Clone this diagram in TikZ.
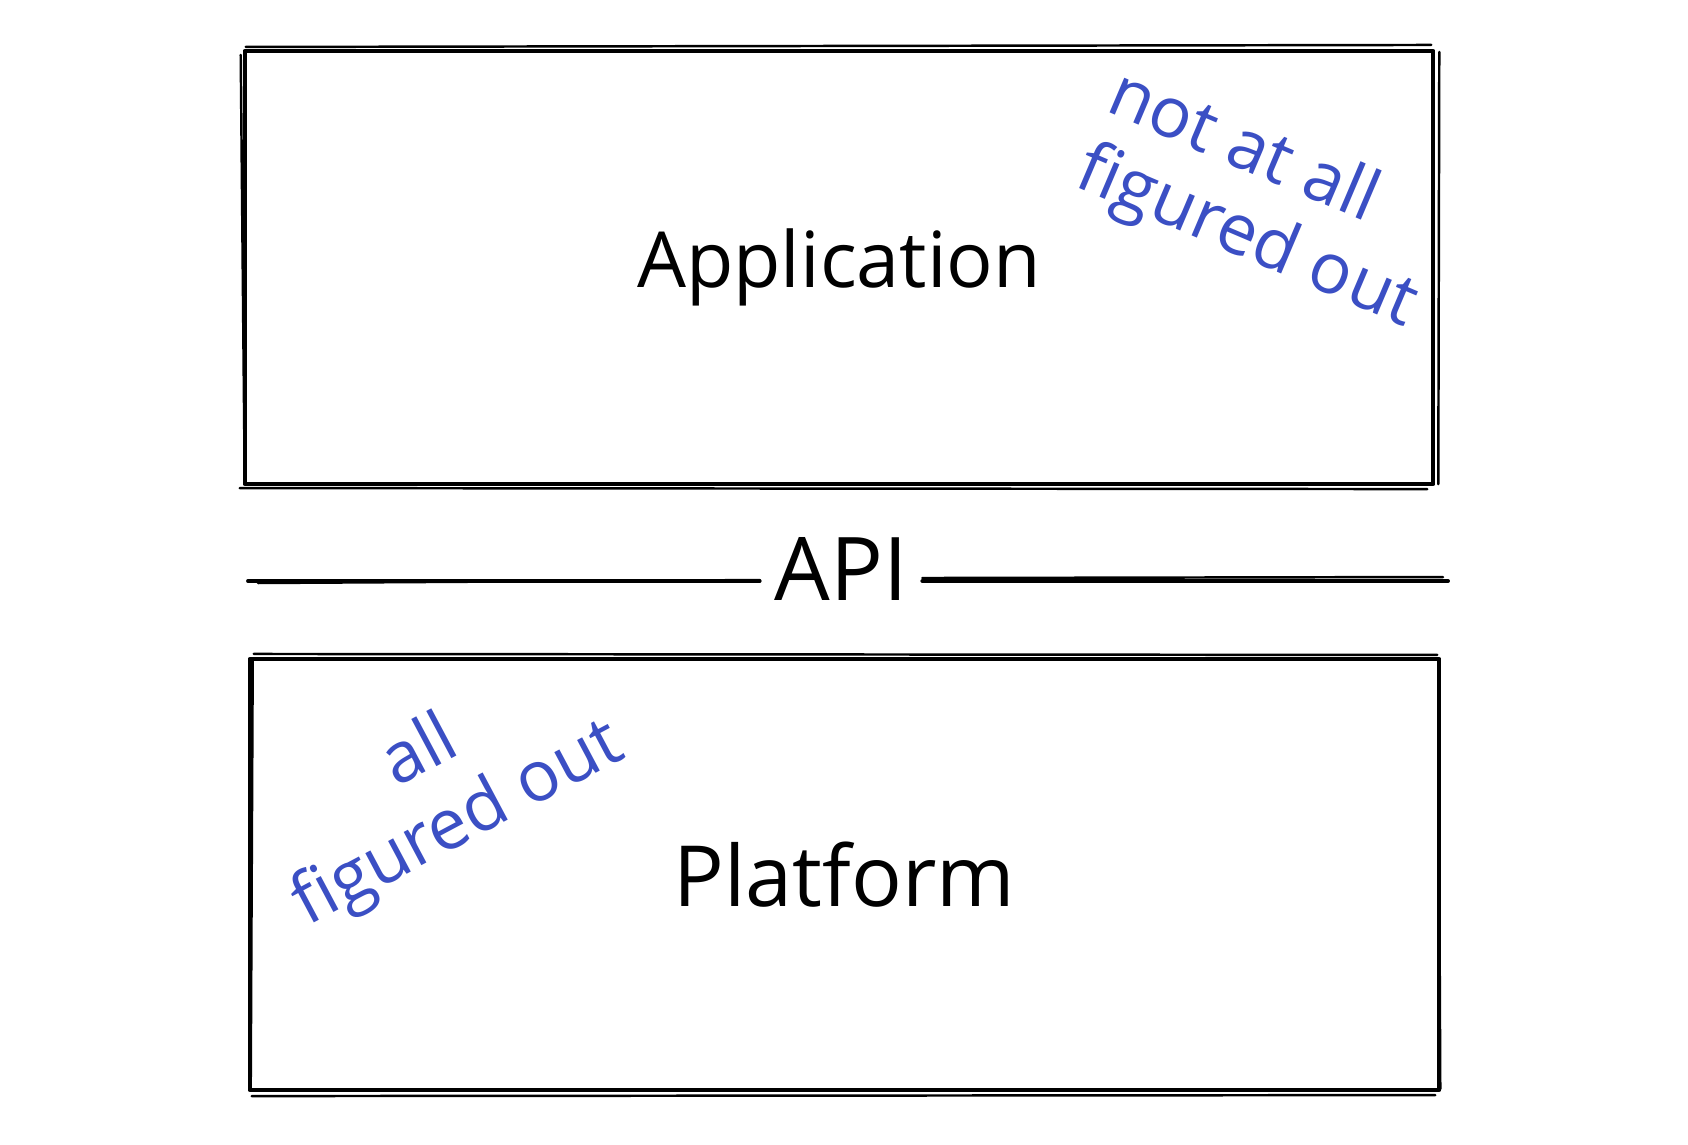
\documentclass[tikz,border=0pt]{standalone}
\usepackage{fontspec}
\setmainfont{Open Sans}
\definecolor{inkblue}{HTML}{3B4FC4}
\begin{document}
\begin{tikzpicture}[x=0.01cm,y=-0.01cm,
  sketch/.style={line width=1.1pt, line cap=round, line join=round, draw=black},
  thinsketch/.style={line width=0.7pt, line cap=round, draw=black},
  boxnode/.style={sketch, rectangle, inner sep=0pt},
  note/.style={text=inkblue, font=\fontsize{20}{23}\selectfont, inner sep=0pt}]
\useasboundingbox[fill=white] (0,0) rectangle (1688,1144);

% boxes
\node[boxnode, minimum width=11.88cm, minimum height=4.33cm,
      font=\fontsize{22}{26}\selectfont] (app) at (839,267.5) {Application};
\node[boxnode, minimum width=11.89cm, minimum height=4.31cm,
      font=\fontsize{24}{28}\selectfont] (plat) at (844.5,874.5) {Platform};

% sketchy second strokes
\draw[thinsketch] ([shift={(3,-2)}]app.north west) -- ([shift={(-4,-4)}]app.north east);
\draw[thinsketch] ([shift={(4,3)}]app.north east) -- ([shift={(3,-2)}]app.south east);
\draw[thinsketch] ([shift={(-3,2)}]app.south west) -- ([shift={(-8,3)}]app.south east);
\draw[thinsketch] ([shift={(-2,6)}]app.north west) -- ([shift={(2,-4)}]app.south west);
\draw[thinsketch] ([shift={(6,-3)}]plat.north west) -- ([shift={(-4,-2)}]plat.north east);
\draw[thinsketch] ([shift={(-3,6)}]plat.north east) -- ([shift={(-1,-3)}]plat.south east);
\draw[thinsketch] ([shift={(4,4)}]plat.south west) -- ([shift={(-6,3)}]plat.south east);
\draw[thinsketch] ([shift={(5,4)}]plat.north west) -- ([shift={(3,-6)}]plat.south west);

% API divider
\node[font=\fontsize{25}{28}\selectfont, inner sep=4pt, anchor=base] (api) at (841,600) {API};
\coordinate (apil) at (248,581);
\coordinate (apir) at (1448,581);
\draw[sketch] (apil) -- (apil -| api.west);
\draw[sketch] (apir) -- (apir -| api.east);
\draw[thinsketch] ([shift={(10,2)}]apil) -- ([shift={(0,-1)}]apil -| api.west);
\draw[thinsketch] ([shift={(-5,-4)}]apir) -- ([shift={(0,-3)}]apir -| api.east);

% notes
\node[note, rotate=-23, align=left] (notfig) at (1262,202) {not at all\\figured out};
\node[note, rotate=28, align=center] (allfig) at (440,790) {all\\figured out};
\end{tikzpicture}
\end{document}
